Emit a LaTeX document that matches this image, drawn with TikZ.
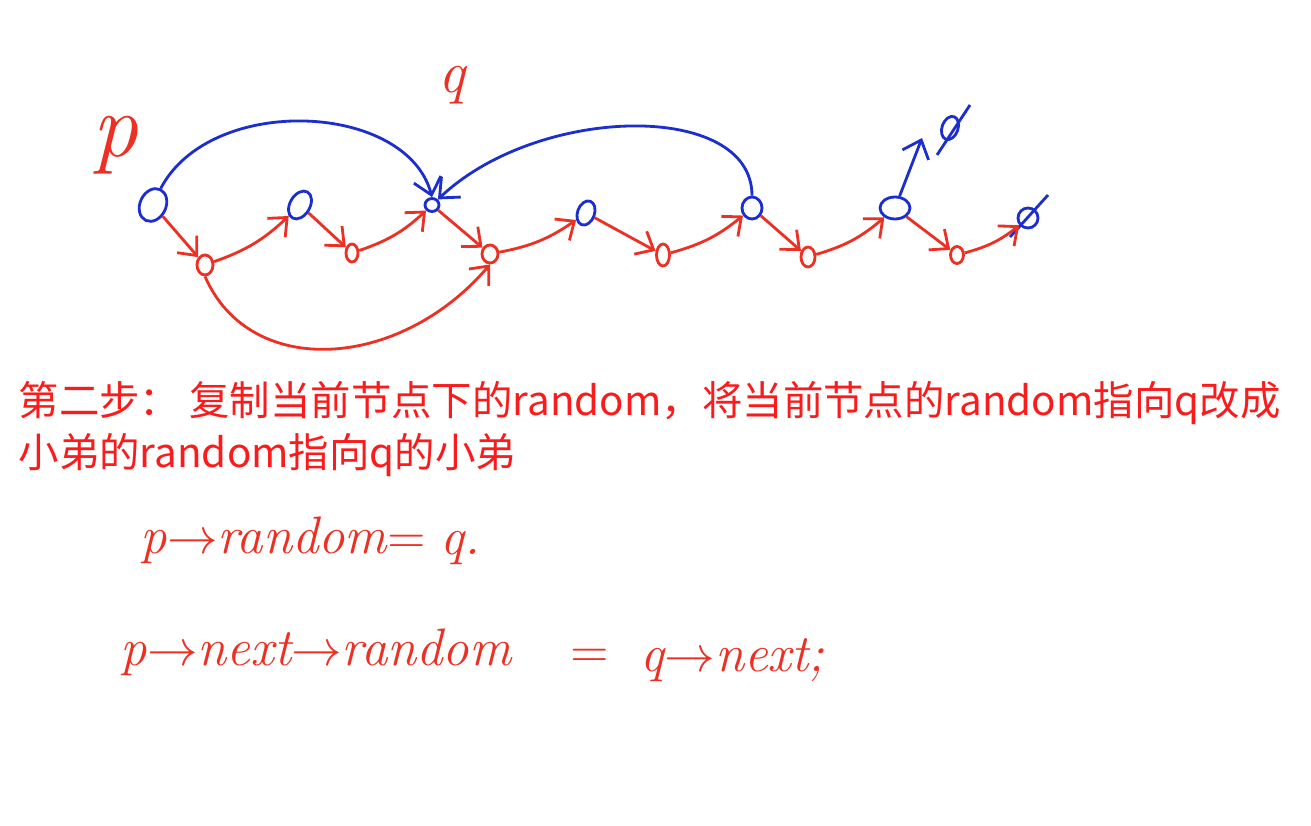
\documentclass[tikz,border=0pt]{standalone}
\usepackage{fontspec}
\newfontfamily\cjk{Noto Sans CJK SC}
\usetikzlibrary{arrows.meta,shapes.geometric}
\definecolor{penred}{RGB}{236,48,36}
\definecolor{penblue}{RGB}{28,46,206}
\definecolor{txtred}{RGB}{250,28,28}
\tikzset{
  bnode/.style={ellipse,draw=penblue,line width=0.8pt,inner sep=0pt},
  rnode/.style={ellipse,draw=penred,line width=0.8pt,inner sep=0pt},
  rarrow/.style={draw=penred,line width=0.8pt,-{Straight Barb[length=1.5mm,width=2.6mm]}},
  barrow/.style={draw=penblue,line width=0.8pt,-{Straight Barb[length=1.6mm,width=2.8mm]}},
  bline/.style={draw=penblue,line width=0.8pt},
  hand/.style={text=penred,inner sep=0pt,font=\fontsize{15}{15}\selectfont\itshape},
  note/.style={text=txtred,inner sep=0pt,anchor=west,font=\fontsize{11.5}{14}\selectfont\cjk}
}
\begin{document}
\begin{tikzpicture}
\useasboundingbox[fill=white] (0,0) rectangle (13.11,-8.26);
\foreach \n/\x/\y/\w/\h/\r in {1/1.53/-2.05/0.26/0.34/-25, 2/3.00/-2.05/0.20/0.30/-30,
  3/4.32/-2.05/0.14/0.13/0, 4/5.86/-2.13/0.17/0.25/-20, 5/7.52/-2.08/0.20/0.22/0,
  6/8.95/-2.08/0.30/0.22/0}
\node[bnode,minimum width=\w cm,minimum height=\h cm,rotate=\r] (a\n) at (\x,\y) {};
\foreach \n/\x/\y/\w/\h in {1/2.05/-2.65/0.16/0.20, 2/3.52/-2.53/0.12/0.18,
  3/4.90/-2.54/0.16/0.18, 4/6.63/-2.55/0.13/0.22, 5/8.08/-2.57/0.14/0.20,
  6/9.57/-2.55/0.13/0.17}
\node[rnode,minimum width=\w cm,minimum height=\h cm] (b\n) at (\x,\y) {};
\node[bnode,minimum width=0.16cm,minimum height=0.24cm,rotate=-20] (n1) at (9.50,-1.28) {};
\node[bnode,minimum width=0.2cm,minimum height=0.2cm] (n2) at (10.28,-2.18) {};
\draw[bline] ([shift={(-0.13,-0.27)}]n1.center) -- ([shift={(0.20,0.23)}]n1.center);
\draw[bline] ([shift={(-0.18,-0.19)}]n2.center) -- ([shift={(0.20,0.23)}]n2.center);
\coordinate (up) at (9.22,-1.38);
\foreach \i/\j in {1/2,2/3,3/4,4/5,5/6}
{
\draw[rarrow] (a\i) -- (b\i);
\draw[rarrow] (b\i) to[bend right=12] (a\j);
}
\draw[rarrow] (a6) -- (b6);
\draw[rarrow] (b6) to[bend right=12] (n2);
\draw[rarrow] (b1.south) .. controls (2.5,-3.8) and (4.0,-3.7) .. (b3.south);
\draw[barrow] (a1.north) .. controls +(0.5,0.95) and +(-0.25,0.95) .. (a3.north);
\draw[barrow] (a5.north) .. controls +(0,0.95) and +(1.0,0.95) .. (a3.north east);
\draw[barrow] (a6) -- (up);
\node[hand,font=\fontsize{26}{26}\selectfont\itshape] (plabel) at (1.15,-1.45) {p};
\node[hand,font=\fontsize{17}{17}\selectfont\itshape] (qlabel) at (4.52,-0.85) {q};
\node[note] (t1) at (0.18,-4.03) {第二步：\ 复制当前节点下的random，将当前节点的random指向q改成};
\node[note] (t2) at (0.18,-4.55) {小弟的random指向q的小弟};
\node[hand,anchor=west] (f1) at (1.40,-5.40) {p$\rightarrow$random$=$};
\node[hand,anchor=west] (f1q) at (4.40,-5.48) {q.};
\node[hand,anchor=west] (f2) at (1.20,-6.52) {p$\rightarrow$next$\rightarrow$random};
\node[hand,anchor=west] (f2e) at (5.70,-6.58) {$=$};
\node[hand,anchor=west] (f2q) at (6.40,-6.60) {q$\rightarrow$next;};
\end{tikzpicture}
\end{document}
